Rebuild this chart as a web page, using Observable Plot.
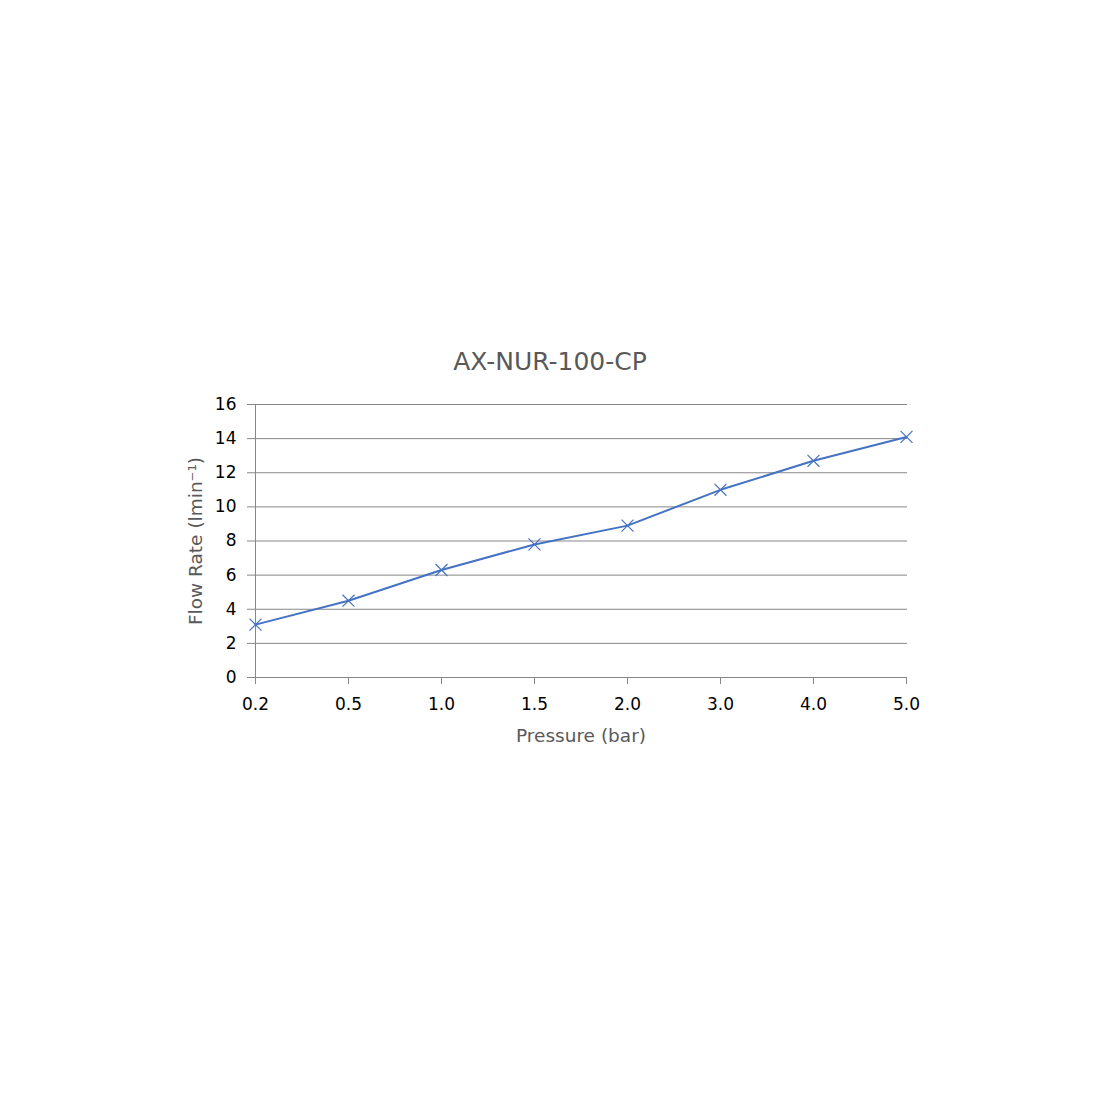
<!DOCTYPE html>
<html>
<head>
<meta charset="utf-8">
<script src="https://cdn.jsdelivr.net/npm/d3@7"></script>
<script src="https://cdn.jsdelivr.net/npm/@observablehq/plot@0.6"></script>
<style>
  html, body { margin: 0; padding: 0; background: #fff; }
  #wrap { position: relative; width: 1100px; height: 1100px; }
  #title {
    position: absolute; left: 0; width: 1100px; top: 344px;
    text-align: center; font-family: "DejaVu Sans", sans-serif;
    font-size: 25px; color: #595959; line-height: 36px;
  }
  #chart { position: absolute; left: 0; top: 0; }
</style>
</head>
<body>
<div id="wrap">
  <div id="title">AX-NUR-100-CP</div>
  <div id="chart"></div>
</div>
<script>
// Flow rate measured at each test pressure
const pressures = ["0.2", "0.5", "1.0", "1.5", "2.0", "3.0", "4.0", "5.0"];
const flowRates = [3.1, 4.5, 6.3, 7.8, 8.9, 11.0, 12.7, 14.1];
const yTicks = [0, 2, 4, 6, 8, 10, 12, 14, 16];

const xLabel = "Pressure (bar)";
const yLabel = "Flow Rate (lmin\u207B\u00B9)";

const data = pressures.map((p, i) => ({pressure: p, flow: flowRates[i]}));

const gridColor = "#878787";
const lineColor = "#4472C4";
const font = "DejaVu Sans, sans-serif";

const chart = Plot.plot({
  width: 1100,
  height: 1100,
  marginLeft: 254,
  marginRight: 193,
  marginTop: 404,
  marginBottom: 423,
  style: {fontFamily: font, background: "transparent"},
  x: {type: "point", domain: pressures, padding: 0},
  y: {domain: [0, 16]},
  marks: [
    Plot.ruleY(yTicks, {stroke: gridColor, strokeWidth: 1}),
    Plot.ruleX([pressures[0]], {stroke: gridColor, strokeWidth: 1}),
    Plot.axisY({
      ticks: yTicks, tickSize: 7, tickPadding: 11, stroke: gridColor,
      fontSize: 17, fill: "#000", label: null
    }),
    Plot.axisX({
      tickSize: 7, tickPadding: 13, stroke: gridColor,
      fontSize: 17, fill: "#000", label: null
    }),
    Plot.line(data, {x: "pressure", y: "flow", stroke: lineColor, strokeWidth: 2}),
    Plot.dot(data, {x: "pressure", y: "flow", symbol: "times", r: 5.5, stroke: lineColor, strokeWidth: 1.2}),
    Plot.text([yLabel], {
      frameAnchor: "left", textAnchor: "middle", lineAnchor: "middle",
      rotate: -90, dx: -58,
      fontSize: 18.5, fill: "#595959", fontFamily: font
    }),
    Plot.text([xLabel], {
      frameAnchor: "bottom", lineAnchor: "middle", dy: 59,
      fontSize: 18.5, fill: "#595959", fontFamily: font
    })
  ]
});

document.getElementById("chart").appendChild(chart);
</script>
</body>
</html>
